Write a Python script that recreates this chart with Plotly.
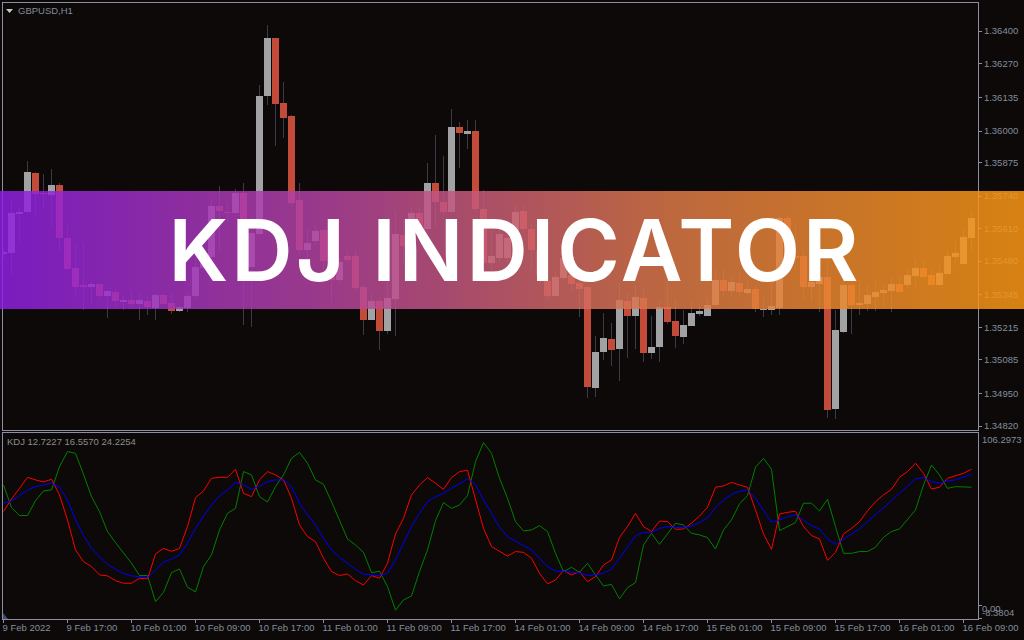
import plotly.graph_objects as go

# Prices in points (1/100000)
open_pts = [135508,135512,135668,135676,135832,135752,135744,135784,135572,135452,135384,135376,135388,135340,135356,135316,135324,135308,135320,135292,135344,135312,135280,135292,135340,135452,135496,135700,135676,135672,135752,135456,135588,136140,136372,136112,136060,135724,135524,135560,135604,135484,135404,135500,135500,135376,135244,135320,135200,135328,135584,135584,135672,135608,135792,135716,135676,136016,135988,136000,135688,135472,135492,135492,135572,135680,135608,135524,135400,135340,135412,135424,135392,135376,134972,135116,135168,135128,135320,135260,135332,135112,135136,135296,135240,135176,135220,135268,135260,135304,135404,135360,135392,135352,135368,135284,135284,135292,135652,135500,135500,135376,135388,135416,134888,135196,135384,135304,135308,135336,135352,135360,135388,135384,135420,135452,135424,135384,135428,135496,135468,135572]
high_pts = [135532,135728,135696,135880,135836,135828,135848,135792,135628,135544,135556,135396,135388,135360,135368,135340,135364,135352,135344,135348,135344,135356,135304,135356,135500,135524,135728,135780,135716,135768,135792,135664,136184,136424,136372,136196,136064,135792,135608,135624,135612,135504,135492,135524,135524,135384,135348,135332,135396,135684,135644,135692,135692,135872,135984,135900,136088,136036,136044,136044,135764,135604,135624,135596,135704,135708,135632,135544,135452,135436,135524,135464,135424,135384,135180,135272,135232,135396,135356,135384,135376,135260,135320,135404,135328,135284,135324,135304,135332,135444,135452,135424,135432,135404,135384,135336,135396,135664,135664,135624,135524,135444,135464,135484,135284,135404,135392,135404,135388,135404,135392,135412,135424,135452,135492,135484,135444,135464,135524,135560,135612,135680]
low_pts = [135492,135428,135556,135676,135656,135692,135620,135524,135444,135340,135284,135308,135332,135252,135296,135284,135292,135244,135264,135244,135308,135268,135276,135276,135324,135436,135484,135524,135636,135672,135224,135216,135584,136104,135940,135972,135700,135504,135464,135544,135444,135312,135384,135476,135364,135184,135244,135124,135188,135180,135472,135572,135564,135596,135620,135664,135676,135852,135928,135676,135424,135444,135476,135476,135572,135596,135444,135384,135328,135340,135404,135356,135256,134932,134936,135084,135060,135000,135092,135128,135076,135088,135076,135228,135132,135148,135220,135260,135260,135304,135336,135340,135336,135344,135276,135256,135264,135264,135476,135444,135324,135316,135276,134852,134848,135192,135188,135264,135280,135280,135292,135276,135356,135372,135372,135416,135384,135384,135428,135464,135468,135524]
close_pts = [135516,135672,135676,135836,135748,135748,135784,135572,135448,135376,135376,135388,135340,135360,135320,135324,135308,135324,135296,135344,135308,135280,135296,135340,135456,135500,135700,135680,135672,135752,135592,135592,136140,136372,136108,136052,135712,135524,135552,135600,135480,135404,135476,135484,135372,135244,135320,135200,135332,135588,135540,135672,135584,135792,135716,135676,136016,135992,136000,135688,135472,135500,135588,135572,135676,135608,135524,135424,135340,135416,135492,135388,135368,134976,135116,135172,135124,135324,135260,135336,135112,135136,135296,135236,135180,135224,135272,135280,135304,135404,135360,135396,135356,135368,135288,135288,135300,135652,135496,135492,135376,135396,135416,134884,135204,135384,135304,135312,135344,135356,135364,135388,135356,135424,135452,135416,135384,135432,135500,135512,135576,135652]

kdj_k = [58.4,66.3,72.9,79.8,78.2,76.9,78.6,68.8,53.2,34.4,27.1,24.0,18.8,18.2,15.2,13.6,13.6,16.7,16.3,31.9,35.4,33.6,35.4,49.0,67.1,71.3,79.2,79.8,79.8,84.8,69.8,67.7,78.2,83.4,81.3,78.2,66.7,50.0,42.7,39.6,29.2,20.9,18.4,19.4,15.2,12.5,18.4,16.7,26.1,44.4,54.2,68.8,75.0,79.6,76.1,72.3,79.6,83.4,84.2,65.6,47.9,36.5,33.4,30.6,33.4,32.9,29.2,19.8,13.2,15.6,21.5,18.8,20.9,14.6,17.7,25.0,28.1,42.3,49.0,57.3,49.0,45.9,52.5,52.1,47.3,47.5,51.1,55.6,61.1,73.6,74.4,76.7,75.0,73.6,59.4,44.4,34.8,56.9,57.9,58.6,49.0,43.4,41.3,27.9,32.9,44.4,47.9,52.1,58.8,64.6,68.8,72.3,79.8,83.4,88.6,82.3,72.5,73.6,79.2,80.6,82.3,84.8]
kdj_d = [63.6,65.0,68.4,71.9,74.0,75.0,76.1,73.6,65.6,53.2,43.4,35.4,30.2,25.4,22.3,19.8,18.2,17.7,17.1,21.9,26.7,28.8,31.3,38.6,47.9,55.6,62.5,68.1,71.9,76.7,75.0,72.3,74.4,77.1,78.2,78.2,74.0,63.6,56.3,50.0,41.7,34.4,29.8,26.1,22.3,19.2,18.8,18.4,19.8,28.1,38.6,49.0,57.3,64.6,67.7,69.8,72.9,76.1,78.8,75.4,65.6,57.3,48.6,42.7,40.0,37.5,34.4,29.2,24.0,21.3,20.9,20.2,20.2,18.4,18.8,19.8,22.5,29.2,36.5,43.2,45.4,45.4,47.9,49.0,48.4,48.4,49.4,51.5,54.6,60.9,65.6,69.2,71.1,71.9,66.7,59.0,51.7,53.2,55.2,56.3,52.7,49.6,47.5,41.1,37.9,41.1,44.4,47.5,52.1,56.3,60.9,65.2,69.8,74.4,78.8,79.6,77.1,76.1,77.5,78.2,79.8,81.7]
kdj_j = [75.0,60.9,55.9,55.9,65.2,71.3,71.9,86.5,95.9,94.8,81.7,67.7,58.4,45.9,39.0,32.3,26.1,18.4,18.4,2.1,7.9,20.2,22.5,11.1,8.2,24.0,31.3,46.9,57.3,60.4,83.4,81.3,67.7,64.4,74.0,81.3,91.7,95.4,88.6,78.2,75.4,64.6,52.7,41.3,37.5,32.9,20.2,21.1,11.5,-3.3,3.2,5.6,20.9,34.4,52.7,64.0,60.4,62.5,68.4,89.6,101.5,94.8,79.2,66.7,52.1,46.3,46.9,49.6,45.9,32.3,20.9,23.6,20.4,26.1,18.8,11.9,12.9,3.8,10.9,14.0,37.5,44.8,37.9,44.2,51.1,50.0,44.8,43.8,42.1,35.0,46.9,53.2,63.2,68.4,86.1,91.7,84.8,46.5,49.0,51.5,63.6,63.6,58.8,66.1,49.0,32.3,32.3,33.4,33.4,36.1,42.3,45.9,47.5,53.2,59.4,75.0,87.5,81.3,72.9,74.0,74.0,73.6]

price_tick_values = [1.36400,1.36270,1.36135,1.36000,1.35875,1.35740,1.35610,1.35480,1.35345,1.35215,1.35085,1.34950,1.34820]
time_tick_labels = ["9 Feb 2022","9 Feb 17:00","10 Feb 01:00","10 Feb 09:00","10 Feb 17:00","11 Feb 01:00","11 Feb 09:00","11 Feb 17:00","14 Feb 01:00","14 Feb 09:00","14 Feb 17:00","15 Feb 01:00","15 Feb 09:00","15 Feb 17:00","16 Feb 01:00","16 Feb 09:00"]
time_tick_positions = [k * 8 for k in range(16)]

BG = "#0c0908"
BORDER = "#8b8fa3"
TEXT = "#838d9c"
FONT = "Liberation Sans"
L, R, T, B = 3, 46, 3, 21
PW, PH = 1024 - L - R, 640 - T - B

def px(x):
    return (x - L) / PW

def py(y):
    return (640 - B - y) / PH

index = list(range(len(open_pts)))
opens = [v / 1e5 for v in open_pts]
highs = [v / 1e5 for v in high_pts]
lows = [v / 1e5 for v in low_pts]
closes = [v / 1e5 for v in close_pts]

fig = go.Figure()
fig.add_trace(go.Bar(x=index, y=[h - l for h, l in zip(highs, lows)], base=lows, width=0.125,
                     marker=dict(color="#3b3b47", line=dict(width=0)), xaxis="x", yaxis="y", showlegend=False))
fig.add_trace(go.Bar(x=index, y=[abs(c - o) for o, c in zip(opens, closes)],
                     base=[min(o, c) for o, c in zip(opens, closes)], width=0.875,
                     marker=dict(color=["#a0a2a3" if c >= o else "#c34b3a" for o, c in zip(opens, closes)],
                                 line=dict(width=0)), xaxis="x", yaxis="y", showlegend=False))
for vals, col in ((kdj_j, "#008000"), (kdj_k, "#ff0000"), (kdj_d, "#0000ff")):
    fig.add_trace(go.Scatter(x=index, y=vals, mode="lines", line=dict(color=col, width=1),
                             xaxis="x2", yaxis="y2", showlegend=False))

# banner: stepped horizontal gradient
stops = [(0.0, (122, 28, 192)), (0.33, (156, 60, 135)), (0.66, (190, 105, 62)), (1.0, (214, 130, 18))]
ALPHA = 0.85

def band_colour(t):
    for (a, ca), (b, cb) in zip(stops, stops[1:]):
        if t <= b:
            f = (t - a) / (b - a)
            disp = [ca[n] + (cb[n] - ca[n]) * f for n in range(3)]
            break
    src = [min(255, max(0, round((d - (1 - ALPHA) * 10) / ALPHA))) for d in disp]
    return f"rgb({src[0]},{src[1]},{src[2]})"

shapes = []
STEP = 8
for xs in range(0, 1024, STEP):
    shapes.append(dict(type="rect", xref="paper", yref="paper", layer="above",
                       x0=px(xs), x1=px(xs + STEP), y0=py(309), y1=py(191),
                       fillcolor=band_colour((xs + STEP / 2) / 1024), opacity=ALPHA, line=dict(width=0)))
# small chrome marks
shapes.append(dict(type="path", xref="paper", yref="paper", layer="above", fillcolor="#c8c8c8", line=dict(width=0),
                   path=f"M {px(6)} {py(9)} L {px(13)} {py(9)} L {px(9.5)} {py(13)} Z"))
shapes.append(dict(type="path", xref="paper", yref="paper", layer="above", fillcolor="#3d4a78", line=dict(width=0),
                   path=f"M {px(3)} {py(613)} L {px(8)} {py(619)} L {px(3)} {py(619)} Z"))

annotations = [
    dict(text="KDJ INDICATOR", xref="paper", yref="paper", x=px(515), y=py(250), showarrow=False,
         font=dict(family="Inter", size=85, color="#ffffff", weight=600), xanchor="center", yanchor="middle"),
    dict(text="GBPUSD,H1", xref="paper", yref="paper", x=px(16), y=py(10.4), showarrow=False,
         font=dict(family=FONT, size=9.5, color=TEXT), xanchor="left", yanchor="middle"),
    dict(text="KDJ 12.7227 16.5570 24.2254", xref="paper", yref="paper", x=px(5), y=py(441), showarrow=False,
         font=dict(family=FONT, size=9.5, color="#8c8c8c"), xanchor="left", yanchor="middle"),
    dict(text="106.2973", xref="paper", yref="y2", x=px(980), y=106.2973, yshift=-5, showarrow=False,
         font=dict(family=FONT, size=9.5, color=TEXT), xanchor="left", yanchor="middle"),
    dict(text="0.00", xref="paper", yref="y2", x=px(980), y=0, yshift=-3, showarrow=False,
         font=dict(family=FONT, size=9.5, color=TEXT), xanchor="left", yanchor="middle"),
    dict(text="-8.3804", xref="paper", yref="y2", x=px(980), y=-8.3804, yshift=6, showarrow=False,
         font=dict(family=FONT, size=9.5, color=TEXT), xanchor="left", yanchor="middle"),
]

xrange_ = [-0.0625, 121.8125]
fig.update_layout(
    width=1024, height=640, margin=dict(l=L, r=R, t=T, b=B, pad=0),
    paper_bgcolor=BG, plot_bgcolor=BG, barmode="overlay", bargap=0, hovermode=False, showlegend=False,
    font=dict(family=FONT, size=9.5, color=TEXT),
    shapes=shapes, annotations=annotations,
    xaxis=dict(domain=[0, 1], anchor="y", range=xrange_, showgrid=False, zeroline=False, showline=True, mirror=True,
               linecolor=BORDER, linewidth=1, tickvals=[], fixedrange=True),
    yaxis=dict(domain=[py(430), py(3)], anchor="x", side="right", range=[1.34804, 1.36512], showgrid=False,
               zeroline=False, showline=True, mirror=True, linecolor=BORDER, linewidth=1,
               tickvals=price_tick_values, ticktext=[f"{v:.5f}" for v in price_tick_values],
               ticks="outside", ticklen=3, tickcolor=BORDER, tickfont=dict(family=FONT, size=9.5, color=TEXT)),
    xaxis2=dict(domain=[0, 1], anchor="y2", range=xrange_, showgrid=False, zeroline=False, showline=True, mirror=True,
                linecolor=BORDER, linewidth=1, tickvals=time_tick_positions, ticktext=time_tick_labels,
                ticks="outside", ticklen=3, tickcolor=BORDER, tickangle=0, ticklabelposition="outside right",
                ticklabelshift=-2, tickfont=dict(family=FONT, size=9.5, color=TEXT)),
    yaxis2=dict(domain=[0, py(433)], anchor="x2", side="right", range=[-8.75, 107.5], showgrid=False,
                zeroline=False, showline=True, mirror=True, linecolor=BORDER, linewidth=1,
                tickvals=[0, -8.3804], ticktext=["", ""], ticks="outside", ticklen=3, tickcolor=BORDER),
)

post = (
    "document.body.style.margin='0';document.documentElement.style.overflow='hidden';"
    "document.querySelectorAll('text.annotation-text').forEach(function(e){"
    "if(e.textContent==='KDJ INDICATOR'){e.style.letterSpacing='3px';}});"
)
fig.write_html("out.html", post_script=post, config={"displayModeBar": False})
